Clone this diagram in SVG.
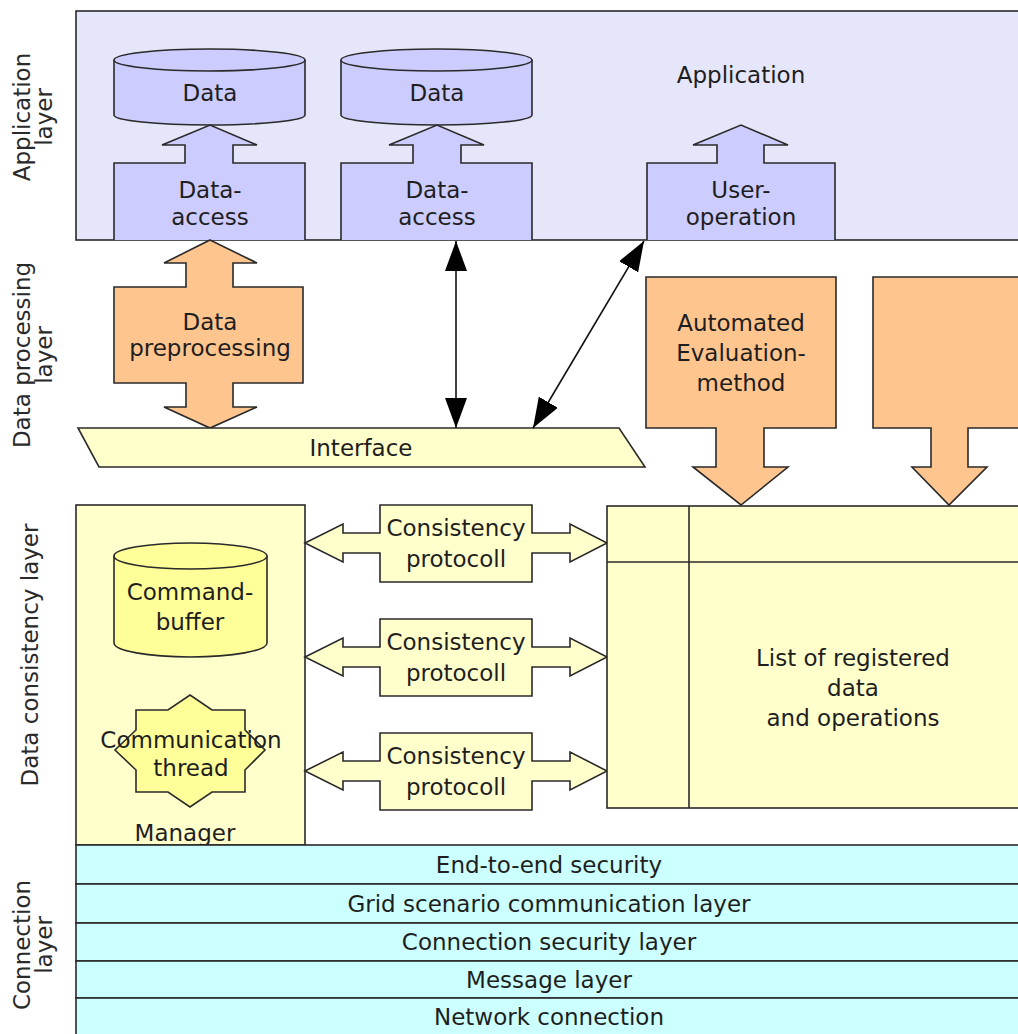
<svg xmlns="http://www.w3.org/2000/svg" width="1018" height="1034" viewBox="0 0 1018 1034">
  <style>
    text { font-family: "DejaVu Sans", "Verdana", sans-serif; font-size: 23px; fill: #1e1e1e; text-anchor: middle; }
    .cap { fill: #2a2a2a; }
    .ln { stroke: #2a2a2a; stroke-width: 1.6; }
    .app { fill: #e6e6fa; }
    .blue { fill: #ccccff; }
    .orange { fill: #ffc58f; }
    .pale { fill: #ffffcc; }
    .yel { fill: #ffff99; }
    .cyan { fill: #ccffff; }
    .conn { fill: none; stroke: #111; stroke-width: 1.6; }
  </style>
  <defs>
    <marker id="head" viewBox="0 0 30 22" refX="30" refY="11" markerWidth="30" markerHeight="22" markerUnits="userSpaceOnUse" orient="auto-start-reverse">
      <path d="M0,0 L30,11 L0,22 z" fill="#000"/>
    </marker>
  </defs>

  <rect width="1018" height="1034" fill="#ffffff"/>

  <!-- layer captions -->
  <g id="captions">
    <text class="cap" transform="translate(30,117) rotate(-90)">Application</text>
    <text class="cap" transform="translate(52,117) rotate(-90)">layer</text>
    <text class="cap" transform="translate(30,355) rotate(-90)">Data processing</text>
    <text class="cap" transform="translate(52,355) rotate(-90)">layer</text>
    <text class="cap" transform="translate(38,655) rotate(-90)">Data consistency layer</text>
    <text class="cap" transform="translate(30,945) rotate(-90)">Connection</text>
    <text class="cap" transform="translate(52,945) rotate(-90)">layer</text>
  </g>

  <!-- application layer -->
  <g id="application-layer">
    <rect class="app ln" x="76" y="11" width="950" height="229"/>
    <text x="741" y="83">Application</text>
  </g>

  <g id="data-1">
    <path class="blue ln" d="M114,60 V115 A95.5,10 0 0 0 305,115 V60"/>
    <ellipse class="blue ln" cx="209.5" cy="60" rx="95.5" ry="11"/>
    <text x="210" y="101">Data</text>
  </g>
  <g id="data-2">
    <path class="blue ln" d="M341,60 V115 A95.5,10 0 0 0 532,115 V60"/>
    <ellipse class="blue ln" cx="436.5" cy="60" rx="95.5" ry="11"/>
    <text x="437" y="101">Data</text>
  </g>

  <g id="data-access-1">
    <path class="blue ln" d="M114,240 V163 H185 V145 H162 L210,125 L257,145 H233 V163 H305 V240"/>
    <text x="210" y="198">Data-</text>
    <text x="210" y="225">access</text>
  </g>
  <g id="data-access-2">
    <path class="blue ln" d="M341,240 V163 H413 V145 H389 L437,125 L484,145 H461 V163 H532 V240"/>
    <text x="437" y="198">Data-</text>
    <text x="437" y="225">access</text>
  </g>
  <g id="user-operation">
    <path class="blue ln" d="M647,240 V163 H717 V145 H693 L741,125 L788,145 H764 V163 H835 V240"/>
    <text x="741" y="198">User-</text>
    <text x="741" y="225">operation</text>
  </g>

  <!-- data processing layer -->
  <g id="data-preprocessing">
    <path class="orange ln" d="M210,240 L257,263 H233 V287 H303 V383 H233 V407 H257 L210,428 L164,407 H186 V383 H114 V287 H186 V263 H164 Z"/>
    <text x="210" y="330">Data</text>
    <text x="210" y="356">preprocessing</text>
  </g>

  <g id="interface">
    <path class="pale ln" d="M78,428 H619 L645,467 H99 Z"/>
    <text x="361" y="456">Interface</text>
  </g>

  <g id="automated-evaluation">
    <path class="orange ln" d="M646,277 H836 V428 H764 V467 H788 L741,505 L693,467 H716 V428 H646 Z"/>
    <text x="741" y="331">Automated</text>
    <text x="741" y="361">Evaluation-</text>
    <text x="741" y="391">method</text>
  </g>
  <g id="evaluation-2">
    <path class="orange ln" d="M873,277 H1026 V428 H968 V467 H987 L949,505 L912,467 H931 V428 H873 Z"/>
  </g>

  <!-- data consistency layer -->
  <g id="manager">
    <rect class="pale ln" x="76" y="505" width="229" height="340"/>
    <text x="185" y="841">Manager</text>
  </g>
  <g id="command-buffer">
    <path class="yel ln" d="M114,556 V643 A76.5,14 0 0 0 267,643 V556"/>
    <ellipse class="yel ln" cx="190.5" cy="556" rx="76.5" ry="13"/>
    <text x="190" y="600">Command-</text>
    <text x="190" y="630">buffer</text>
  </g>
  <g id="communication-thread">
    <path class="yel ln" d="M190,695 L212,710 H245 V730 L265,750 L245,770 V792 H212 L190,807 L168,792 H136 V770 L115,750 L136,730 V710 H168 Z"/>
    <text x="191" y="748">Communication</text>
    <text x="191" y="776">thread</text>
  </g>

  <g id="consistency-1">
    <path class="pale ln" d="M305,543 L343,524 V533 H380 V505 H532 V533 H570 V524 L607,543 L570,562 V553 H532 V582 H380 V553 H343 V562 Z"/>
    <text x="456" y="536">Consistency</text>
    <text x="456" y="567">protocoll</text>
  </g>
  <g id="consistency-2">
    <path class="pale ln" d="M305,657 L343,638 V647 H380 V619 H532 V647 H570 V638 L607,657 L570,676 V667 H532 V696 H380 V667 H343 V676 Z"/>
    <text x="456" y="650">Consistency</text>
    <text x="456" y="681">protocoll</text>
  </g>
  <g id="consistency-3">
    <path class="pale ln" d="M305,771 L343,752 V761 H380 V733 H532 V761 H570 V752 L607,771 L570,790 V781 H532 V810 H380 V781 H343 V790 Z"/>
    <text x="456" y="764">Consistency</text>
    <text x="456" y="795">protocoll</text>
  </g>

  <g id="registry">
    <rect class="pale ln" x="607" y="506" width="420" height="302"/>
    <line class="ln" x1="689" y1="506" x2="689" y2="808"/>
    <line class="ln" x1="607" y1="562" x2="1027" y2="562"/>
    <text x="853" y="666">List of registered</text>
    <text x="853" y="696">data</text>
    <text x="853" y="726">and operations</text>
  </g>

  <!-- connection layer -->
  <g id="connection-layer">
    <rect class="cyan ln" x="76" y="845" width="950" height="39"/>
    <rect class="cyan ln" x="76" y="884" width="950" height="39"/>
    <rect class="cyan ln" x="76" y="923" width="950" height="38"/>
    <rect class="cyan ln" x="76" y="961" width="950" height="37"/>
    <rect class="cyan ln" x="76" y="998" width="950" height="40"/>
    <text x="549" y="873">End-to-end security</text>
    <text x="549" y="912">Grid scenario communication layer</text>
    <text x="549" y="950">Connection security layer</text>
    <text x="549" y="988">Message layer</text>
    <text x="549" y="1025">Network connection</text>
  </g>

  <!-- connectors -->
  <g id="connectors">
    <line class="conn" x1="456" y1="241" x2="456" y2="428" marker-start="url(#head)" marker-end="url(#head)"/>
    <line class="conn" x1="644" y1="241" x2="533" y2="428" marker-start="url(#head)" marker-end="url(#head)"/>
  </g>
</svg>
